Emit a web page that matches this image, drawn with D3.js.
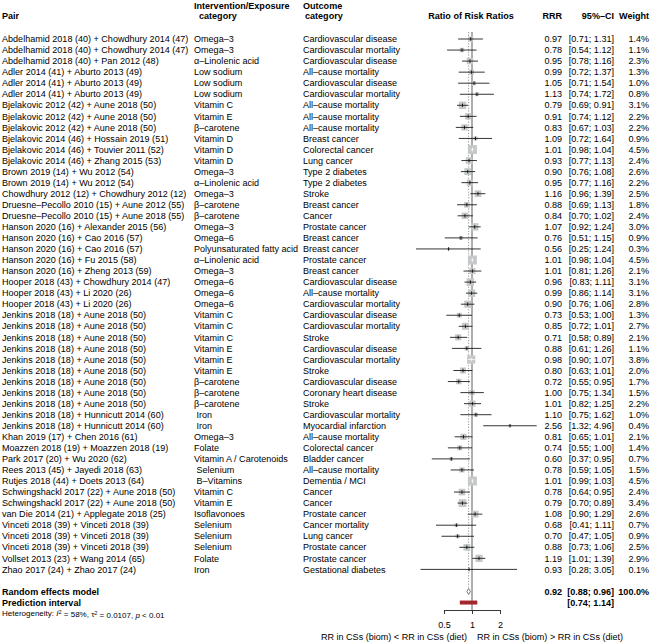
<!DOCTYPE html>
<html>
<head>
<meta charset="utf-8">
<script src="https://cdn.jsdelivr.net/npm/d3@7"></script>
<style>
  html, body { margin: 0; padding: 0; background: #fff; }
  svg text { font-family: "Liberation Sans", Arial, Helvetica, sans-serif; white-space: pre; }
</style>
</head>
<body>
<svg id="forest" width="650" height="642"></svg>
<script>
// Forest plot — ratio of risk ratios, biomarker vs dietary cohort studies

const pairs = [
  'Abdelhamid 2018 (40) + Chowdhury 2014 (47)',
  'Abdelhamid 2018 (40) + Chowdhury 2014 (47)',
  'Abdelhamid 2018 (40) + Pan 2012 (48)',
  'Adler 2014 (41) + Aburto 2013 (49)',
  'Adler 2014 (41) + Aburto 2013 (49)',
  'Adler 2014 (41) + Aburto 2013 (49)',
  'Bjelakovic 2012 (42) + Aune 2018 (50)',
  'Bjelakovic 2012 (42) + Aune 2018 (50)',
  'Bjelakovic 2012 (42) + Aune 2018 (50)',
  'Bjelakovic 2014 (46) + Hossain 2019 (51)',
  'Bjelakovic 2014 (46) + Touvier 2011 (52)',
  'Bjelakovic 2014 (46) + Zhang 2015 (53)',
  'Brown 2019 (14) + Wu 2012 (54)',
  'Brown 2019 (14) + Wu 2012 (54)',
  'Chowdhury 2012 (12) + Chowdhury 2012 (12)',
  'Druesne\u2013Pecollo 2010 (15) + Aune 2012 (55)',
  'Druesne\u2013Pecollo 2010 (15) + Aune 2018 (55)',
  'Hanson 2020 (16) + Alexander 2015 (56)',
  'Hanson 2020 (16) + Cao 2016 (57)',
  'Hanson 2020 (16) + Cao 2016 (57)',
  'Hanson 2020 (16) + Fu 2015 (58)',
  'Hanson 2020 (16) + Zheng 2013 (59)',
  'Hooper 2018 (43) + Chowdhury 2014 (47)',
  'Hooper 2018 (43) + Li 2020 (26)',
  'Hooper 2018 (43) + Li 2020 (26)',
  'Jenkins 2018 (18) + Aune 2018 (50)',
  'Jenkins 2018 (18) + Aune 2018 (50)',
  'Jenkins 2018 (18) + Aune 2018 (50)',
  'Jenkins 2018 (18) + Aune 2018 (50)',
  'Jenkins 2018 (18) + Aune 2018 (50)',
  'Jenkins 2018 (18) + Aune 2018 (50)',
  'Jenkins 2018 (18) + Aune 2018 (50)',
  'Jenkins 2018 (18) + Aune 2018 (50)',
  'Jenkins 2018 (18) + Aune 2018 (50)',
  'Jenkins 2018 (18) + Hunnicutt 2014 (60)',
  'Jenkins 2018 (18) + Hunnicutt 2014 (60)',
  'Khan 2019 (17) + Chen 2016 (61)',
  'Moazzen 2018 (19) + Moazzen 2018 (19)',
  'Park 2017 (20) + Wu 2020 (62)',
  'Rees 2013 (45) + Jayedi 2018 (63)',
  'Rutjes 2018 (44) + Doets 2013 (64)',
  'Schwingshackl 2017 (22) + Aune 2018 (50)',
  'Schwingshackl 2017 (22) + Aune 2018 (50)',
  'van Die 2014 (21) + Applegate 2018 (25)',
  'Vinceti 2018 (39) + Vinceti 2018 (39)',
  'Vinceti 2018 (39) + Vinceti 2018 (39)',
  'Vinceti 2018 (39) + Vinceti 2018 (39)',
  'Vollset 2013 (23) + Wang 2014 (65)',
  'Zhao 2017 (24) + Zhao 2017 (24)'
];

const exposures = [
  'Omega\u20133', 'Omega\u20133', '\u03b1\u2013Linolenic acid',
  'Low sodium', 'Low sodium', 'Low sodium',
  'Vitamin C', 'Vitamin E', '\u03b2\u2013carotene',
  'Vitamin D', 'Vitamin D', 'Vitamin D',
  'Omega\u20133', '\u03b1\u2013Linolenic acid', 'Omega\u20133',
  '\u03b2\u2013carotene', '\u03b2\u2013carotene',
  'Omega\u20133', 'Omega\u20136', 'Polyunsaturated fatty acid', '\u03b1\u2013Linolenic acid', 'Omega\u20133',
  'Omega\u20136', 'Omega\u20136', 'Omega\u20136',
  'Vitamin C', 'Vitamin C', 'Vitamin C',
  'Vitamin E', 'Vitamin E', 'Vitamin E',
  '\u03b2\u2013carotene', '\u03b2\u2013carotene', '\u03b2\u2013carotene',
  ' Iron', ' Iron',
  'Omega\u20133', 'Folate', 'Vitamin A / Carotenoids',
  ' Selenium', ' B\u2013Vitamins',
  'Vitamin C', 'Vitamin E', 'Isoflavonoes',
  'Selenium', 'Selenium', 'Selenium',
  'Folate', 'Iron'
];

const outcomes = [
  'Cardiovascular disease', 'Cardiovascular mortality', 'Cardiovascular disease',
  'All\u2013cause mortality', 'Cardiovascular disease', 'Cardiovascular mortality',
  'All\u2013cause mortality', 'All\u2013cause mortality', 'All\u2013cause mortality',
  'Breast cancer', 'Colorectal cancer', 'Lung cancer',
  'Type 2 diabetes', 'Type 2 diabetes', 'Stroke',
  'Breast cancer', 'Cancer',
  'Prostate cancer', 'Breast cancer', 'Breast cancer', 'Prostate cancer', 'Breast cancer',
  'Cardiovascular disease', 'All\u2013cause mortality', 'Cardiovascular mortality',
  'Cardiovascular disease', 'Cardiovascular mortality', 'Stroke',
  'Cardiovascular disease', 'Cardiovascular mortality', 'Stroke',
  'Cardiovascular disease', 'Coronary heart disease', 'Stroke',
  'Cardiovascular mortality', 'Myocardial infarction',
  'All\u2013cause mortality', 'Colorectal cancer', 'Bladder cancer',
  'All\u2013cause mortality', 'Dementia / MCI',
  'Cancer', 'Cancer', 'Prostate cancer',
  'Cancer mortality', 'Lung cancer', 'Prostate cancer',
  'Prostate cancer', 'Gestational diabetes'
];

const rrr = [
  0.97, 0.78, 0.95, 0.99, 1.05, 1.13, 0.79, 0.91, 0.83, 1.09,
  1.01, 0.93, 0.90, 0.95, 1.16, 0.88, 0.84, 1.07, 0.76, 0.56,
  1.01, 1.01, 0.96, 0.99, 0.90, 0.73, 0.85, 0.71, 0.88, 0.98,
  0.80, 0.72, 1.00, 1.01, 1.10, 2.56, 0.81, 0.74, 0.60, 0.78,
  1.01, 0.78, 0.79, 1.08, 0.68, 0.70, 0.88, 1.19, 0.93
];
const ciLow = [
  0.71, 0.54, 0.78, 0.72, 0.71, 0.74, 0.69, 0.74, 0.67, 0.72,
  0.98, 0.77, 0.76, 0.77, 0.96, 0.69, 0.70, 0.92, 0.51, 0.25,
  0.98, 0.81, 0.83, 0.86, 0.76, 0.53, 0.72, 0.58, 0.61, 0.90,
  0.63, 0.55, 0.75, 0.82, 0.75, 1.32, 0.65, 0.55, 0.37, 0.59,
  0.99, 0.64, 0.70, 0.90, 0.41, 0.47, 0.73, 1.01, 0.28
];
const ciHigh = [
  1.31, 1.12, 1.16, 1.37, 1.54, 1.72, 0.91, 1.12, 1.03, 1.64,
  1.04, 1.13, 1.08, 1.16, 1.39, 1.13, 1.02, 1.24, 1.15, 1.24,
  1.04, 1.26, 1.11, 1.14, 1.06, 1.00, 1.01, 0.89, 1.26, 1.07,
  1.01, 0.95, 1.34, 1.25, 1.62, 4.96, 1.01, 1.00, 0.95, 1.05,
  1.03, 0.95, 0.89, 1.29, 1.11, 1.05, 1.06, 1.39, 3.05
];
const weights = [
  1.4, 1.1, 2.3, 1.3, 1.0, 0.8, 3.1, 2.2, 2.2, 0.9,
  4.5, 2.4, 2.6, 2.2, 2.5, 1.8, 2.4, 3.0, 0.9, 0.3,
  4.5, 2.1, 3.1, 3.1, 2.8, 1.3, 2.7, 2.1, 1.1, 3.8,
  2.0, 1.7, 1.5, 2.2, 1.0, 0.4, 2.1, 1.4, 0.7, 1.5,
  4.5, 2.4, 3.4, 2.6, 0.7, 0.9, 2.5, 2.9, 0.1
];

const pooled = [0.92, 0.88, 0.96];      // estimate, lower, upper
const predInterval = [0.74, 1.14];
const xTicks = [0.5, 1, 2];

// ─── Layout ───────────────────────────────────────────────────────────────────
const FS = 9.05;
const rowTop = 39, rowStep = 11.05;
const colPair = 2, colExp = 194, colOut = 303;
const colRRR = 562, colCI = 614, colW = 649;
const axisY = 610;

const svg = d3.select('#forest');
const x = d3.scaleLog().domain([0.5, 2]).range([444, 500]);
const rowY = i => rowTop + i * rowStep;
const nRows = rrr.length;
const yRE = rowY(nRows + 1), yPI = rowY(nRows + 2), yHet = rowY(nRows + 3);
const fmt2 = d3.format('.2f');

function txt(g, xx, yy, s, anchor, opts = {}) {
  return g.append('text')
    .attr('x', xx).attr('y', yy).attr('dy', '0.35em')
    .attr('text-anchor', anchor || 'start')
    .attr('font-size', opts.size || FS)
    .attr('font-weight', opts.bold ? 'bold' : 'normal')
    .attr('fill', '#000')
    .text(s);
}

// ─── Headers ──────────────────────────────────────────────────────────────────
const hdr = svg.append('g');
txt(hdr, colPair, 16, 'Pair', 'start', { bold: true });
txt(hdr, colExp, 5.5, 'Intervention/Exposure', 'start', { bold: true });
txt(hdr, colExp + 5, 16, 'category', 'start', { bold: true });
txt(hdr, colOut, 5.5, 'Outcome', 'start', { bold: true });
txt(hdr, colOut + 2, 16, 'category', 'start', { bold: true });
txt(hdr, x(1) - 1, 16, 'Ratio of Risk Ratios', 'middle', { bold: true });
txt(hdr, colRRR, 16, 'RRR', 'end', { bold: true });
txt(hdr, colCI, 16, '95%\u2013CI', 'end', { bold: true });
txt(hdr, colW, 16, 'Weight', 'end', { bold: true });

// ─── Reference lines ──────────────────────────────────────────────────────────
svg.append('line')
  .attr('x1', x(1)).attr('x2', x(1))
  .attr('y1', rowTop - 7).attr('y2', axisY)
  .attr('stroke', '#8c8c8c').attr('stroke-width', 1.4);
svg.append('line')
  .attr('x1', x(pooled[0])).attr('x2', x(pooled[0]))
  .attr('y1', rowTop - 7).attr('y2', yRE - 3)
  .attr('stroke', '#8c8c8c').attr('stroke-width', 0.9)
  .attr('stroke-dasharray', '1.2,1.6');

// ─── Study rows ───────────────────────────────────────────────────────────────
const maxW = d3.max(weights);
const rows = svg.append('g');

rrr.forEach((v, i) => {
  const y = rowY(i);
  txt(rows, colPair, y, pairs[i]);
  txt(rows, colExp, y, exposures[i]);
  txt(rows, colOut, y, outcomes[i]);
  txt(rows, colRRR, y, fmt2(v), 'end');
  txt(rows, colCI, y, `[${fmt2(ciLow[i])}; ${fmt2(ciHigh[i])}]`, 'end');
  txt(rows, colW, y, weights[i].toFixed(1) + '%', 'end');

  const cx = x(v);
  const side = 9 * Math.sqrt(weights[i] / maxW);
  rows.append('rect')
    .attr('x', cx - side / 2).attr('y', y - side / 2)
    .attr('width', side).attr('height', side)
    .attr('fill', '#c6c9c9');

  const inside = x(ciLow[i]) >= cx - side / 2 && x(ciHigh[i]) <= cx + side / 2;
  const lc = inside ? '#fff' : '#000';
  rows.append('line')
    .attr('x1', x(ciLow[i])).attr('x2', x(ciHigh[i]))
    .attr('y1', y).attr('y2', y)
    .attr('stroke', lc).attr('stroke-width', 0.8);
  rows.append('line')
    .attr('x1', cx).attr('x2', cx)
    .attr('y1', y - 1.8).attr('y2', y + 1.8)
    .attr('stroke', lc).attr('stroke-width', 0.8);
});

// ─── Summary ──────────────────────────────────────────────────────────────────
const sum = svg.append('g');
txt(sum, colPair, yRE, 'Random effects model', 'start', { bold: true });
txt(sum, colPair, yPI, 'Prediction interval', 'start', { bold: true });

sum.append('polygon')
  .attr('points', [
    [x(pooled[1]), yRE], [x(pooled[0]), yRE - 3],
    [x(pooled[2]), yRE], [x(pooled[0]), yRE + 3]
  ].map(p => p.join(',')).join(' '))
  .attr('fill', '#fff').attr('stroke', '#555').attr('stroke-width', 0.8);

sum.append('rect')
  .attr('x', x(predInterval[0])).attr('y', yPI - 2)
  .attr('width', x(predInterval[1]) - x(predInterval[0])).attr('height', 4)
  .attr('fill', '#a3262a');

txt(sum, colRRR, yRE, fmt2(pooled[0]), 'end', { bold: true });
txt(sum, colCI, yRE, `[${fmt2(pooled[1])}; ${fmt2(pooled[2])}]`, 'end', { bold: true });
txt(sum, colW, yRE, '100.0%', 'end', { bold: true });
txt(sum, colCI, yPI, `[${fmt2(predInterval[0])}; ${fmt2(predInterval[1])}]`, 'end', { bold: true });

// Heterogeneity line
const het = sum.append('text')
  .attr('x', colPair).attr('y', yHet).attr('dy', '0.35em')
  .attr('font-size', 8).attr('fill', '#000');
het.append('tspan').text('Heterogeneity: ');
het.append('tspan').attr('font-style', 'italic').text('I');
het.append('tspan').attr('dy', '-0.4em').attr('font-size', 5.5).text('2');
het.append('tspan').attr('dy', '0.4em').text(' = 58%, \u03c4');
het.append('tspan').attr('dy', '-0.4em').attr('font-size', 5.5).text('2');
het.append('tspan').attr('dy', '0.4em').text(' = 0.0107, ');
het.append('tspan').attr('font-style', 'italic').text('p');
het.append('tspan').text(' < 0.01');

// ─── Axis ─────────────────────────────────────────────────────────────────────
const axis = svg.append('g')
  .attr('transform', `translate(0,${axisY})`)
  .call(d3.axisBottom(x).tickValues(xTicks).tickFormat(d => String(d))
    .tickSize(4).tickSizeOuter(0));
axis.select('.domain').attr('stroke', '#222').attr('stroke-width', 0.9);
axis.selectAll('.tick line').attr('stroke', '#222').attr('stroke-width', 0.9);
axis.selectAll('.tick text')
  .attr('font-size', FS).attr('fill', '#000')
  .attr('font-family', '"Liberation Sans", Arial, sans-serif')
  .attr('y', 12);

txt(svg, x(1) - 5, 637, 'RR in CSs (biom) < RR in CSs (diet)', 'end');
txt(svg, x(1) + 5, 637, 'RR in CSs (biom) > RR in CSs (diet)', 'start');
</script>
</body>
</html>
